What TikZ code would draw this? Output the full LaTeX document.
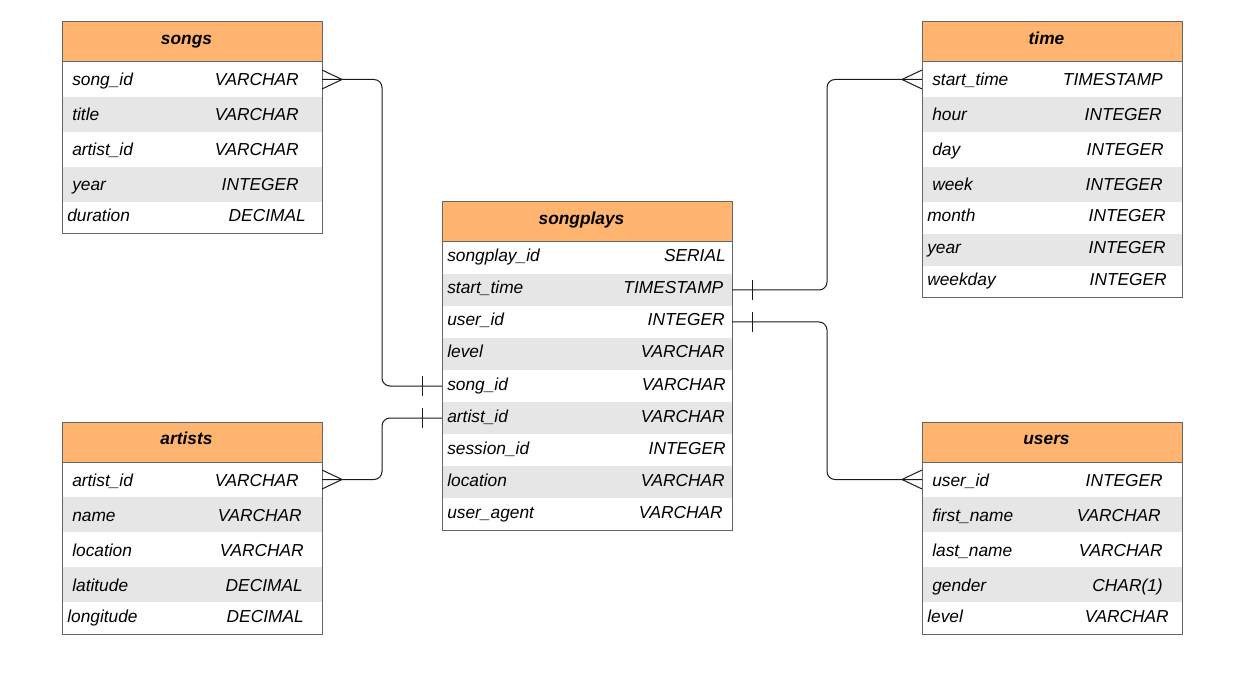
\documentclass[tikz,border=0pt]{standalone}
\usepackage{fontspec}
\setmainfont{Liberation Sans}
\usetikzlibrary{calc}
\definecolor{hdr}{HTML}{FFB570}
\definecolor{alt}{HTML}{E6E6E6}
\definecolor{bord}{HTML}{666666}
\definecolor{lnk}{HTML}{1A1A1A}
\tikzset{
  rowbox/.style={anchor=north west, inner sep=0pt, outer sep=0pt, draw=none},
  hdrbox/.style={anchor=north west, inner sep=0pt, outer sep=0pt, draw=bord, fill=hdr, line width=0.75pt},
  tabbox/.style={anchor=north west, inner sep=0pt, outer sep=0pt, draw=bord, line width=0.75pt},
  txt/.style={inner sep=0pt, font=\fontsize{13}{15}\selectfont\itshape},
  ttl/.style={inner sep=0pt, anchor=base, font=\fontsize{13}{15}\selectfont\bfseries\itshape},
  conn/.style={draw=lnk, line width=0.75pt},
}
\def\tabx{62}\def\tabw{260}
\newcommand{\tabrow}[8]{%
  \node[rowbox, fill=#4, minimum width=\tabw*0.75pt, minimum height=#3*0.75pt] (#1) at (\tabx,#2) {};
  \node[txt, anchor=base west] (#1-f) at (#6,{#2+24+(#3-35)*4/3}) {#5};
  \node[txt, anchor=base east] (#1-t) at (#8,{#2+24+(#3-35)*4/3}) {#7};
}
\newcommand{\tabframe}[4]{% name, top, total height, title
  \node[hdrbox, minimum width=\tabw*0.75pt, minimum height=40*0.75pt] (#1-h) at (\tabx,#2) {};
  \node[ttl] (#1-title) at ($(#1-h.north)+(-5.5,22.5)$) {#4};
  \node[tabbox, minimum width=\tabw*0.75pt, minimum height=#3*0.75pt] (#1) at (\tabx,#2) {};
}
\begin{document}
\begin{tikzpicture}[x=0.75pt, y=-0.75pt]
\fill[white] (0,0) rectangle (1245,691);
\useasboundingbox (0,0) rectangle (1245,691);

% songs
\def\tabx{62}\def\tabw{260}
\tabrow{songs-r1}{62}{35}{white}{song\_id}{72}{VARCHAR}{299}
\tabrow{songs-r2}{97}{35}{alt}{title}{72}{VARCHAR}{299}
\tabrow{songs-r3}{132}{35}{white}{artist\_id}{72}{VARCHAR}{299}
\tabrow{songs-r4}{167}{35}{alt}{year}{72}{INTEGER}{299}
\tabrow{songs-r5}{202}{32}{white}{duration}{67}{DECIMAL}{306}
\tabframe{songs}{22}{212}{songs}

% artists
\tabrow{art-r1}{462}{35}{white}{artist\_id}{72}{VARCHAR}{299}
\tabrow{art-r2}{497}{35}{alt}{name}{72}{VARCHAR}{302}
\tabrow{art-r3}{532}{35}{white}{location}{72}{VARCHAR}{304}
\tabrow{art-r4}{567}{35}{alt}{latitude}{72}{DECIMAL}{303}
\tabrow{art-r5}{602}{32}{white}{longitude}{67}{DECIMAL}{304}
\tabframe{artists}{422}{212}{artists}

% songplays
\def\tabx{442}\def\tabw{290}
\tabrow{sp-r1}{242}{32}{white}{songplay\_id}{447}{SERIAL}{726}
\tabrow{sp-r2}{274}{32}{alt}{start\_time}{447}{TIMESTAMP}{723.5}
\tabrow{sp-r3}{306}{32}{white}{user\_id}{447}{INTEGER}{725}
\tabrow{sp-r4}{338}{32}{alt}{level}{447}{VARCHAR}{725}
\tabrow{sp-r5}{370}{32}{white}{song\_id}{447}{VARCHAR}{726}
\tabrow{sp-r6}{402}{32}{alt}{artist\_id}{447}{VARCHAR}{725}
\tabrow{sp-r7}{434}{32}{white}{session\_id}{447}{INTEGER}{726}
\tabrow{sp-r8}{466}{32}{alt}{location}{447}{VARCHAR}{725}
\tabrow{sp-r9}{498}{32}{white}{user\_agent}{447}{VARCHAR}{723}
\tabframe{songplays}{202}{328}{songplays}

% time
\def\tabx{922}\def\tabw{260}
\tabrow{time-r1}{62}{35}{white}{start\_time}{932}{TIMESTAMP}{1163}
\tabrow{time-r2}{97}{35}{alt}{hour}{932}{INTEGER}{1162}
\tabrow{time-r3}{132}{35}{white}{day}{932}{INTEGER}{1164}
\tabrow{time-r4}{167}{35}{alt}{week}{932}{INTEGER}{1163}
\tabrow{time-r5}{202}{32}{white}{month}{927}{INTEGER}{1166}
\tabrow{time-r6}{234}{32}{alt}{year}{927}{INTEGER}{1166}
\tabrow{time-r7}{266}{32}{white}{weekday}{927}{INTEGER}{1167}
\tabframe{time}{22}{276}{time}

% users
\tabrow{usr-r1}{462}{35}{white}{user\_id}{932}{INTEGER}{1163}
\tabrow{usr-r2}{497}{35}{alt}{first\_name}{932}{VARCHAR}{1161}
\tabrow{usr-r3}{532}{35}{white}{last\_name}{932}{VARCHAR}{1163}
\tabrow{usr-r4}{567}{35}{alt}{gender}{932}{CHAR(1)}{1163}
\tabrow{usr-r5}{602}{32}{white}{level}{927}{VARCHAR}{1169}
\tabframe{users}{422}{212}{users}

% connectors
\coordinate (vL) at (382,0);
\coordinate (vR) at (827,0);

% songs.song_id -> songplays.song_id
\draw[conn, rounded corners=6pt] (songs-r1.east) -| (vL |- sp-r5.west) -- (sp-r5.west);
\draw[conn] ($(songs-r1.east)+(0,-9.5)$) -- ($(songs-r1.east)+(20,0)$) -- ($(songs-r1.east)+(0,9.5)$);
\draw[conn] ($(sp-r5.west)+(-20,-10)$) -- ($(sp-r5.west)+(-20,10)$);

% artists.artist_id -> songplays.artist_id
\draw[conn, rounded corners=6pt] (art-r1.east) -| (vL |- sp-r6.west) -- (sp-r6.west);
\draw[conn] ($(art-r1.east)+(0,-9.5)$) -- ($(art-r1.east)+(20,0)$) -- ($(art-r1.east)+(0,9.5)$);
\draw[conn] ($(sp-r6.west)+(-20,-10)$) -- ($(sp-r6.west)+(-20,10)$);

% songplays.start_time -> time.start_time
\draw[conn, rounded corners=6pt] (sp-r2.east) -| (vR |- time-r1.west) -- (time-r1.west);
\draw[conn] ($(time-r1.west)+(0,-9.5)$) -- ($(time-r1.west)+(-20,0)$) -- ($(time-r1.west)+(0,9.5)$);
\draw[conn] ($(sp-r2.east)+(20,-10)$) -- ($(sp-r2.east)+(20,10)$);

% songplays.user_id -> users.user_id
\draw[conn, rounded corners=6pt] (sp-r3.east) -| (vR |- usr-r1.west) -- (usr-r1.west);
\draw[conn] ($(usr-r1.west)+(0,-9.5)$) -- ($(usr-r1.west)+(-20,0)$) -- ($(usr-r1.west)+(0,9.5)$);
\draw[conn] ($(sp-r3.east)+(20,-10)$) -- ($(sp-r3.east)+(20,10)$);
\end{tikzpicture}
\end{document}
